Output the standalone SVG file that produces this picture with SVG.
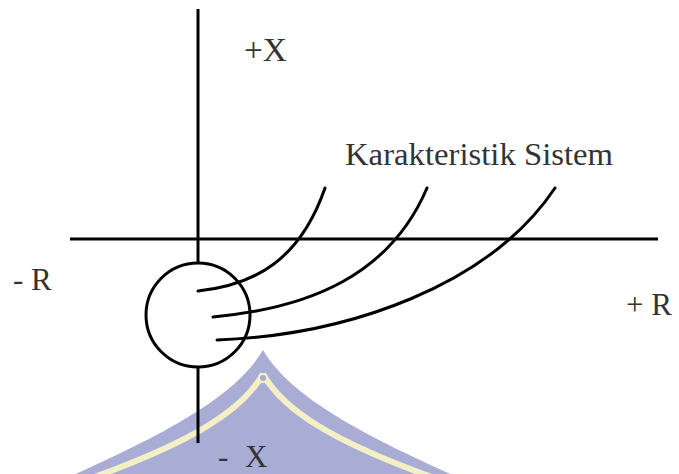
<svg xmlns="http://www.w3.org/2000/svg" width="679" height="474" viewBox="0 0 679 474">
  <style>
    .ax { stroke: #000; stroke-width: 3; fill: none; stroke-linecap: butt; }
    .crv { stroke: #000; stroke-width: 3; fill: none; stroke-linecap: round; }
    .lbl { font-family: 'Liberation Serif', 'Times New Roman', serif; font-size: 31px; fill: #333; }
  </style>
  <rect width="679" height="474" fill="#fff"/>
  <g id="watermark">
    <path d="M263,350 C 238,392 180,428 62,480 L 464,480 C 346,428 288,392 263,350 Z" fill="#a9acd4"/>
    <path d="M263,374 C 243,410 193,442 86,480 M263,374 C 283,410 333,442 440,480" fill="none" stroke="#f4f0c6" stroke-width="6"/>
    <circle cx="263" cy="378" r="4" fill="#a9acd4" stroke="#f4f0c6" stroke-width="2"/>
  </g>
  <g id="axes">
    <line id="x-axis" class="ax" x1="198" y1="9" x2="198" y2="443"/>
    <line id="r-axis" class="ax" x1="70" y1="239" x2="658" y2="239"/>
  </g>
  <g id="circle-node">
    <circle cx="198" cy="315" r="52" fill="#fff" stroke="#000" stroke-width="3"/>
  </g>
  <g id="connectors">
    <path class="crv" d="M198,291 C 255,285 300,260 325,188"/>
    <path class="crv" d="M213,317 C 310,308 390,275 427,188"/>
    <path class="crv" d="M217,340 C 350,335 490,285 555,188"/>
  </g>
  <g id="labels">
    <text id="label-plus-x" class="lbl" x="244" y="61" style="font-size:33px" textLength="43" lengthAdjust="spacingAndGlyphs">+X</text>
    <text id="label-karakteristik" class="lbl" x="345" y="165" textLength="268" lengthAdjust="spacingAndGlyphs">Karakteristik Sistem</text>
    <text id="label-minus-r" class="lbl" x="13" y="290">- R</text>
    <text id="label-plus-r" class="lbl" x="626" y="315">+ R</text>
    <text id="label-minus-x" class="lbl" x="218" y="467">- <tspan x="245">X</tspan></text>
  </g>
</svg>
